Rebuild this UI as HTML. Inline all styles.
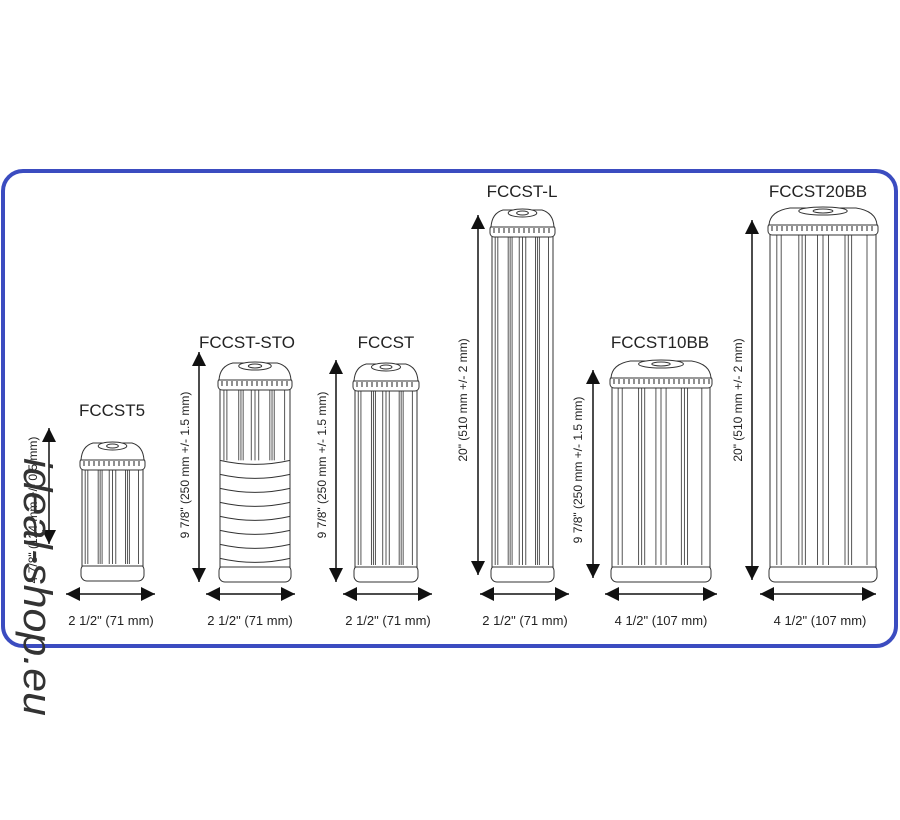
<!DOCTYPE html>
<html><head><meta charset="utf-8"><style>
html,body{margin:0;padding:0;background:#fff;width:900px;height:820px;overflow:hidden}
svg{display:block}
text{font-family:"Liberation Sans",Arial,sans-serif;fill:#222}
</style></head><body>
<svg id="s" width="900" height="820" viewBox="0 0 900 820" xmlns="http://www.w3.org/2000/svg">
<rect x="3" y="171" width="893" height="475" rx="20" ry="20" fill="#fff" stroke="#3b4cc0" stroke-width="4"/>
<g id="carts" stroke="#333" fill="#fff" stroke-width="1"></g>
<g id="arrows" stroke="#111" fill="#111"></g>
<g font-size="17" text-anchor="middle">
<text x="112" y="416">FCCST5</text>
<text x="247" y="348">FCCST-STO</text>
<text x="386" y="348">FCCST</text>
<text x="522" y="197">FCCST-L</text>
<text x="660" y="348">FCCST10BB</text>
<text x="818" y="197">FCCST20BB</text>
</g>
<g font-size="13" text-anchor="middle">
<text x="111" y="625">2 1/2" (71 mm)</text>
<text x="250" y="625">2 1/2" (71 mm)</text>
<text x="388" y="625">2 1/2" (71 mm)</text>
<text x="525" y="625">2 1/2" (71 mm)</text>
<text x="661" y="625">4 1/2" (107 mm)</text>
<text x="820" y="625">4 1/2" (107 mm)</text>
</g>
<g font-size="12" text-anchor="middle">
<text transform="translate(37,510) rotate(-90)">4 7/8" (124 mm +/- 0.5 mm)</text>
<text transform="translate(189,465) rotate(-90)">9 7/8" (250 mm +/- 1.5 mm)</text>
<text transform="translate(326,465) rotate(-90)">9 7/8" (250 mm +/- 1.5 mm)</text>
<text transform="translate(467,400) rotate(-90)">20" (510 mm +/- 2 mm)</text>
<text transform="translate(582,470) rotate(-90)">9 7/8" (250 mm +/- 1.5 mm)</text>
<text transform="translate(742,400) rotate(-90)">20" (510 mm +/- 2 mm)</text>
</g>
<text transform="translate(24,458) rotate(90)" font-size="40" style="fill:#333;font-style:italic" textLength="258" lengthAdjust="spacingAndGlyphs">ideal-shop.eu</text>
</svg>
<script>
var NS="http://www.w3.org/2000/svg";
function el(p,n,a){var e=document.createElementNS(NS,n);for(var k in a)e.setAttribute(k,a[k]);p.appendChild(e);return e;}
var C=document.getElementById('carts'),A=document.getElementById('arrows');
function cart(x0,x1,top,bot,sto){
 var w=x1-x0,cx=(x0+x1)/2,g=el(C,'g',{});
 el(g,'rect',{x:x0+1,y:bot-18,width:w-2,height:17,rx:6});
 el(g,'rect',{x:x0+2,y:top+28,width:w-4,height:bot-top-44});
 var b0=top+30,b1=sto?top+(bot-top)*0.45:bot-18;
 var xs=[0.08,0.12,0.28,0.31,0.34,0.45,0.5,0.55,0.7,0.73,0.76,0.9];
 xs.forEach(function(f){el(g,'line',{x1:x0+w*f,y1:b0,x2:x0+w*f,y2:b1,stroke:'#555'});});
 if(sto){for(var y=b1;y<bot-18;y+=14){el(g,'path',{d:'M'+(x0+2)+' '+y+' Q'+cx+' '+(y+8)+' '+(x1-2)+' '+y,fill:'none'});}}
 el(g,'rect',{x:x0,y:top+18,width:w,height:12,rx:4});
 for(var t=x0+4;t<x1-2;t+=5)el(g,'line',{x1:t,y1:top+21,x2:t,y2:top+26,stroke:'#222'});
 el(g,'path',{d:'M'+(x0+1)+' '+(top+20)+' Q'+(x0+2)+' '+(top+6)+' '+(cx-w*0.3)+' '+(top+3)+' L'+(cx+w*0.3)+' '+(top+3)+' Q'+(x1-2)+' '+(top+6)+' '+(x1-1)+' '+(top+20)+' Z'});
 el(g,'ellipse',{cx:cx,cy:top+6,rx:w*0.22,ry:4});
 el(g,'ellipse',{cx:cx,cy:top+6,rx:w*0.09,ry:2});
}
function arr(x1,y1,x2,y2){
 el(A,'line',{x1:x1,y1:y1,x2:x2,y2:y2,'stroke-width':1.5});
 function head(px,py,dx,dy){var L=14,W=7,nx=-dy,ny=dx;
  el(A,'polygon',{points:px+','+py+' '+(px-dx*L+nx*W)+','+(py-dy*L+ny*W)+' '+(px-dx*L-nx*W)+','+(py-dy*L-ny*W),stroke:'none'});}
 var d=Math.hypot(x2-x1,y2-y1),dx=(x2-x1)/d,dy=(y2-y1)/d;
 head(x2,y2,dx,dy);head(x1,y1,-dx,-dy);
}
cart(80,145,440,582);
cart(218,292,360,583,true);
cart(353,419,361,583);
cart(490,555,207,583);
cart(610,712,358,583);
cart(768,878,205,583);
arr(49,428,49,544);
arr(199,352,199,582);
arr(336,360,336,582);
arr(478,215,478,575);
arr(593,370,593,578);
arr(752,220,752,580);
arr(66,594,155,594);
arr(206,594,295,594);
arr(343,594,432,594);
arr(480,594,569,594);
arr(605,594,717,594);
arr(760,594,876,594);
</script>
</body></html>
